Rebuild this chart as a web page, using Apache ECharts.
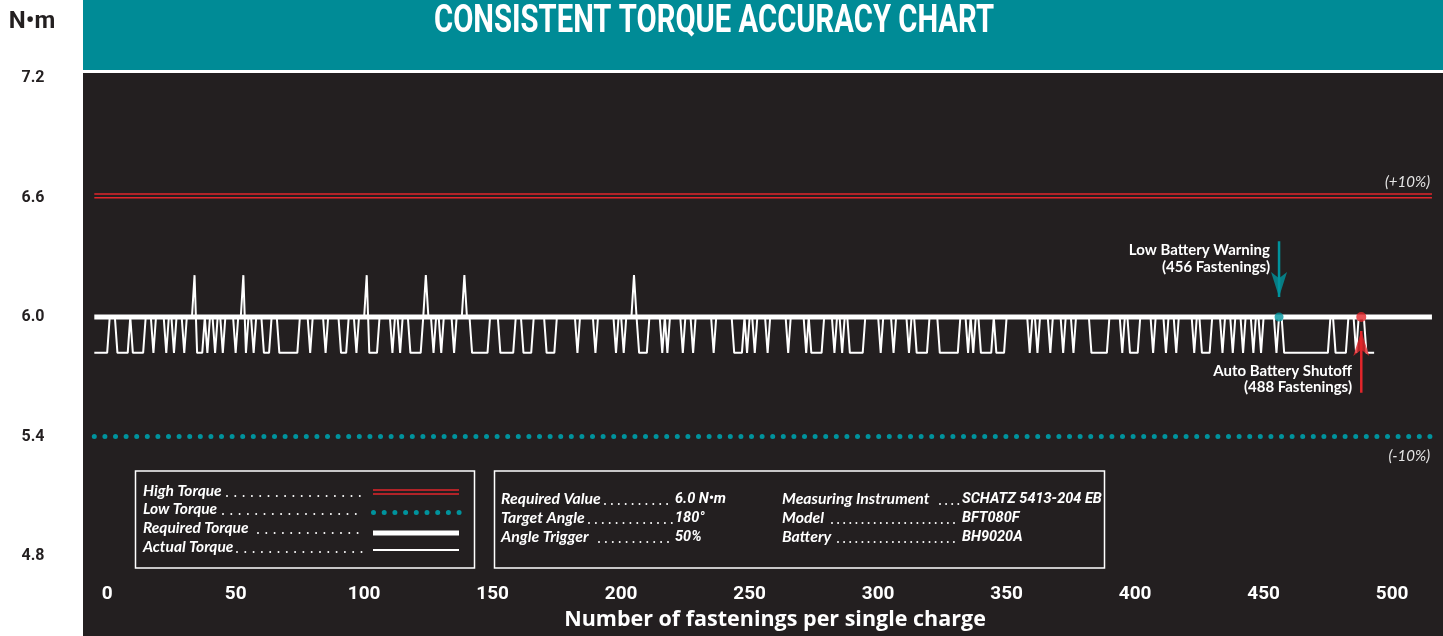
<!DOCTYPE html>
<html>
<head>
<meta charset="utf-8">
<title>Consistent Torque Accuracy Chart</title>
<script src="https://cdn.jsdelivr.net/npm/echarts@6/dist/echarts.min.js"></script>
<style>
  html, body { margin: 0; padding: 0; background: #fff; }
  #chart { width: 1443px; height: 636px; }
</style>
</head>
<body>
<div id="chart"></div>
<script>
// axis ticks
const xTicks = [0, 50, 100, 150, 200, 250, 300, 350, 400, 450, 500];
const yTicks = [4.8, 5.4, 6.0, 6.6, 7.2];

// actual torque reading for each fastening, starting at x = -5
const actualStartX = -5;
const actualTorque = [
  5.82, 5.82, 5.82, 5.82, 5.82, 5.82, 6, 6, 6, 5.82,
  5.82, 5.82, 5.82, 5.82, 6, 5.82, 5.82, 5.82, 5.82, 5.82,
  6, 6, 6, 5.82, 6, 6, 6, 6, 5.82, 6,
  6, 5.82, 6, 6, 6, 5.82, 6, 6, 6, 6.21,
  5.82, 5.82, 5.82, 6, 5.82, 6, 6, 5.82, 6, 6,
  5.82, 6, 6, 6, 6, 5.82, 6, 6, 6.21, 5.82,
  6, 6, 5.82, 6, 6, 6, 5.82, 5.82, 5.82, 6,
  6, 6, 5.82, 5.82, 5.82, 5.82, 5.82, 5.82, 5.82, 5.82,
  6, 6, 6, 6, 5.82, 6, 6, 6, 6, 6,
  5.82, 6, 6, 6, 6, 6, 5.82, 5.82, 5.82, 6,
  6, 6, 5.82, 6, 6, 6, 6.21, 5.82, 5.82, 5.82,
  5.82, 6, 6, 6, 6, 6, 5.82, 6, 6, 5.82,
  6, 6, 6, 5.82, 5.82, 5.82, 5.82, 5.82, 6, 6.21,
  6, 6, 5.82, 6, 6, 5.82, 6, 6, 6, 6,
  5.82, 6, 6, 6, 6.21, 6, 6, 5.82, 5.82, 5.82,
  5.82, 5.82, 5.82, 5.82, 6, 6, 6, 6, 5.82, 5.82,
  5.82, 5.82, 5.82, 5.82, 6, 6, 6, 5.82, 5.82, 5.82,
  5.82, 6, 6, 6, 6, 6, 5.82, 5.82, 5.82, 5.82,
  6, 6, 6, 6, 6, 6, 6, 6, 5.82, 6,
  6, 6, 6, 6, 6, 5.82, 6, 6, 6, 6,
  6, 6, 6, 5.82, 6, 6, 5.82, 6, 6, 6,
  6.21, 6, 5.82, 5.82, 5.82, 5.82, 6, 6, 6, 6,
  6, 5.82, 6, 5.82, 6, 6, 6, 6, 6, 5.82,
  6, 6, 6, 5.82, 6, 6, 6, 6, 6, 6,
  6, 5.82, 6, 6, 6, 6, 6, 6, 6, 5.82,
  5.82, 5.82, 5.82, 6, 5.82, 6, 6, 5.82, 6, 6,
  6, 6, 5.82, 6, 6, 6, 6, 6, 6, 6,
  5.82, 6, 6, 6, 6, 6, 6, 5.82, 6, 5.82,
  5.82, 5.82, 5.82, 5.82, 6, 6, 6, 6, 5.82, 6,
  6, 5.82, 6, 6, 5.82, 5.82, 5.82, 5.82, 5.82, 5.82,
  6, 6, 6, 6, 6, 6, 5.82, 6, 6, 6,
  6, 5.82, 6, 6, 6, 6, 6, 5.82, 6, 6,
  5.82, 5.82, 5.82, 5.82, 5.82, 6, 6, 6, 6, 5.82,
  5.82, 5.82, 5.82, 5.82, 5.82, 5.82, 5.82, 6, 6, 6,
  5.82, 6, 5.82, 6, 6, 5.82, 5.82, 5.82, 5.82, 5.82,
  6, 5.82, 5.82, 5.82, 5.82, 6, 6, 6, 6, 6,
  6, 6, 6, 6, 5.82, 6, 6, 5.82, 6, 6,
  6, 6, 5.82, 6, 6, 6, 6, 5.82, 6, 6,
  6, 5.82, 6, 6, 6, 6, 6, 6, 5.82, 5.82,
  5.82, 5.82, 5.82, 5.82, 5.82, 6, 6, 6, 6, 6,
  5.82, 6, 6, 5.82, 5.82, 5.82, 5.82, 6, 6, 6,
  6, 6, 5.82, 6, 6, 6, 6, 5.82, 6, 6,
  6, 5.82, 6, 6, 6, 6, 6, 6, 5.82, 6,
  6, 5.82, 5.82, 5.82, 5.82, 6, 6, 6, 6, 5.82,
  6, 6, 6, 5.82, 6, 6, 6, 5.82, 6, 6,
  6, 5.82, 6, 6, 5.82, 6, 6, 6, 6, 6,
  5.82, 6, 6, 5.82, 5.82, 5.82, 5.82, 5.82, 5.82, 5.82,
  5.82, 5.82, 5.82, 5.82, 5.82, 5.82, 5.82, 5.82, 5.82, 5.82,
  5.82, 6, 6, 5.82, 5.82, 5.82, 5.82, 5.82, 6, 6,
  6, 5.82, 6, 6, 6, 5.82, 5.82, 5.82, 5.82
];

// reference levels (N•m) and the x span they are drawn over
const requiredTorque = 6.0;
const highTorqueLines = [6.617, 6.599];
const lowTorque = 5.4;
const refSpan = [-5, 515.5];

// battery events (fastening count)
const lowBatteryWarning = 456;
const autoShutoff = 488;
const warningArrow = [6.38, 6.1];   // shaft top, arrow head centre
const shutoffArrow = [5.62, 5.93];  // shaft bottom, arrow head centre

// text blocks
const legendLabels = ['High Torque', 'Low Torque', 'Required Torque', 'Actual Torque'];
const specLabels = ['Required Value', 'Target Angle', 'Angle Trigger'];
const specValues = ['6.0 N•m', '180°', '50%'];
const deviceLabels = ['Measuring Instrument', 'Model', 'Battery'];
const deviceValues = ['SCHATZ 5413-204 EB', 'BFT080F', 'BH9020A'];

const TEAL = '#008b96';
const DOT_TEAL = '#00939d';
const INK = '#231f20';
const RED = '#e2262b';
const COND = 'Roboto, "Liberation Sans", sans-serif';
const SANS = 'Lato, Roboto, sans-serif';
const WIDE = '"Open Sans", Roboto, sans-serif';

function txt(x, y, text, o) {
  o = o || {};
  return {
    type: 'text', x: x, y: y, z: 20, silent: true,
    scaleX: o.scaleX || 1,
    style: {
      text: text,
      fill: o.fill || '#fff',
      font: (o.italic ? 'italic ' : '') + (o.weight || 'bold') + ' ' + (o.size || 14) + 'px ' + (o.family || SANS),
      align: o.align || 'left',
      verticalAlign: 'middle'
    }
  };
}

function hline(x1, x2, y, style) {
  return {
    type: 'line', z: 20, silent: true,
    shape: { x1: x1, y1: y, x2: x2, y2: y },
    style: style
  };
}

function leader(x1, x2, y, gap) {
  return hline(x1, x2, y, { stroke: '#fff', lineWidth: 2, lineDash: [0, gap], lineCap: 'round' });
}

function flatLine(y, lineStyle, z) {
  return {
    type: 'line', silent: true, symbol: 'none', z: z,
    data: [[refSpan[0], y], [refSpan[1], y]],
    lineStyle: lineStyle
  };
}

// background, title bar, notes and the two boxes
const graphics = [
  { type: 'rect', z: -10, silent: true, shape: { x: 83, y: 0, width: 1360, height: 70 }, style: { fill: TEAL } },
  { type: 'rect', z: -10, silent: true, shape: { x: 83, y: 73, width: 1360, height: 563 }, style: { fill: INK } },
  txt(714, 22, 'CONSISTENT TORQUE ACCURACY CHART', { size: 38, family: COND, align: 'center', scaleX: 0.77 }),
  txt(32, 22, 'N•m', { size: 24, fill: INK, align: 'center', family: COND }),
  txt(1430, 182, '(+10%)', { italic: true, weight: 'normal', size: 15, fill: '#e6e6e6', align: 'right' }),
  txt(1430, 456, '(-10%)', { italic: true, weight: 'normal', size: 15, fill: '#e6e6e6', align: 'right' }),
  txt(1270, 250, 'Low Battery Warning', { size: 15, align: 'right' }),
  txt(1270, 267, '(' + lowBatteryWarning + ' Fastenings)', { size: 15, align: 'right' }),
  txt(1352, 371, 'Auto Battery Shutoff', { size: 15, align: 'right' }),
  txt(1352, 387, '(' + autoShutoff + ' Fastenings)', { size: 15, align: 'right' }),

  { type: 'rect', z: 20, silent: true, shape: { x: 135.5, y: 471, width: 339, height: 97 }, style: { fill: null, stroke: '#fff', lineWidth: 1.5 } },
  { type: 'rect', z: 20, silent: true, shape: { x: 494.5, y: 471, width: 610, height: 97 }, style: { fill: null, stroke: '#fff', lineWidth: 1.5 } }
];

const legendRows = [491, 509, 528, 547];
const legendDotStart = [227, 223, 258, 237];
legendLabels.forEach(function (name, i) {
  graphics.push(txt(143, legendRows[i], name, { italic: true, size: 15.5 }));
  graphics.push(leader(legendDotStart[i], 362, legendRows[i] + 5, 8.3));
});
graphics.push(hline(373, 459, 490, { stroke: RED, lineWidth: 1.5 }));
graphics.push(hline(373, 459, 494, { stroke: RED, lineWidth: 1.5 }));
graphics.push(hline(373.5, 460, 512.5, { stroke: DOT_TEAL, lineWidth: 5, lineDash: [0, 10.7], lineCap: 'round' }));
graphics.push(hline(373, 459, 533, { stroke: '#fff', lineWidth: 5 }));
graphics.push(hline(373, 459, 550, { stroke: '#fff', lineWidth: 2 }));

const specRows = [499, 518, 537];
const specDotStart = [605, 589, 599];
const deviceDotStart = [940, 832, 838];
specLabels.forEach(function (name, i) {
  graphics.push(txt(501, specRows[i], name, { italic: true, size: 15.8 }));
  graphics.push(leader(specDotStart[i], 673, specRows[i] + 5, 6.9));
  graphics.push(txt(675, specRows[i], specValues[i], { italic: true, size: 14.5, family: COND }));
  graphics.push(txt(782, specRows[i], deviceLabels[i], { italic: true, size: 15.8 }));
  graphics.push(leader(deviceDotStart[i], 959, specRows[i] + 5, 6.1));
  graphics.push(txt(962, specRows[i], deviceValues[i], { italic: true, size: 14.5, family: COND }));
});

const chart = echarts.init(document.getElementById('chart'));

const option = {
  backgroundColor: '#fff',
  animation: false,
  grid: { left: 83, right: 0, top: 78, bottom: 77 },
  xAxis: {
    type: 'value', min: -9.4, max: 519.8,
    axisLine: { show: false }, axisTick: { show: false }, splitLine: { show: false },
    axisLabel: {
      customValues: xTicks,
      color: '#fff', fontSize: 19, fontWeight: 'bold', fontFamily: COND, margin: 29
    },
    name: 'Number of fastenings per single charge',
    nameLocation: 'middle',
    nameGap: 53,
    nameTextStyle: { color: '#fff', fontSize: 21.5, fontWeight: 'bold', fontFamily: WIDE, padding: [0, 0, 0, 24] }
  },
  yAxis: {
    type: 'value', min: yTicks[0], max: yTicks[yTicks.length - 1], interval: 0.6,
    axisLine: { show: false }, axisTick: { show: false }, splitLine: { show: false },
    axisLabel: {
      color: INK, fontSize: 16, fontWeight: 'bold', fontFamily: COND,
      align: 'center', margin: 50,
      formatter: function (v) { return v.toFixed(1); }
    }
  },
  graphic: graphics,
  series: [
    flatLine(highTorqueLines[0], { color: RED, width: 1.5 }, 3),
    flatLine(highTorqueLines[1], { color: RED, width: 1.5 }, 3),
    flatLine(lowTorque, { color: DOT_TEAL, width: 5, type: [0, 10.6], cap: 'round' }, 3),
    flatLine(requiredTorque, { color: '#fff', width: 5 }, 3),
    {
      type: 'line', name: 'Actual Torque', silent: true, symbol: 'none', z: 4,
      data: actualTorque.map(function (v, i) { return [actualStartX + i, v]; }),
      lineStyle: { color: '#fff', width: 2 }
    },
    // low battery warning arrow
    {
      type: 'line', silent: true, symbol: 'none', z: 5,
      data: [[lowBatteryWarning, warningArrow[0]], [lowBatteryWarning, warningArrow[1]]],
      lineStyle: { color: DOT_TEAL, width: 2.5 }
    },
    {
      type: 'scatter', silent: true, z: 6,
      symbol: 'arrow', symbolSize: [12, 25], symbolRotate: 180,
      itemStyle: { color: DOT_TEAL },
      data: [[lowBatteryWarning, warningArrow[1]]]
    },
    // auto shutoff arrow
    {
      type: 'line', silent: true, symbol: 'none', z: 5,
      data: [[autoShutoff, shutoffArrow[0]], [autoShutoff, shutoffArrow[1]]],
      lineStyle: { color: RED, width: 2.5 }
    },
    {
      type: 'scatter', silent: true, z: 6,
      symbol: 'arrow', symbolSize: [12, 25],
      itemStyle: { color: RED },
      data: [[autoShutoff, shutoffArrow[1]]]
    },
    // event markers on the required line
    {
      type: 'scatter', silent: true, z: 7, symbolSize: 9,
      itemStyle: { color: DOT_TEAL },
      data: [[lowBatteryWarning, requiredTorque]]
    },
    {
      type: 'scatter', silent: true, z: 7, symbolSize: 10,
      itemStyle: { color: RED },
      data: [[autoShutoff, requiredTorque]]
    }
  ]
};

chart.setOption(option);

window.addEventListener('resize', function () {
  chart.resize();
});
</script>
</body>
</html>
